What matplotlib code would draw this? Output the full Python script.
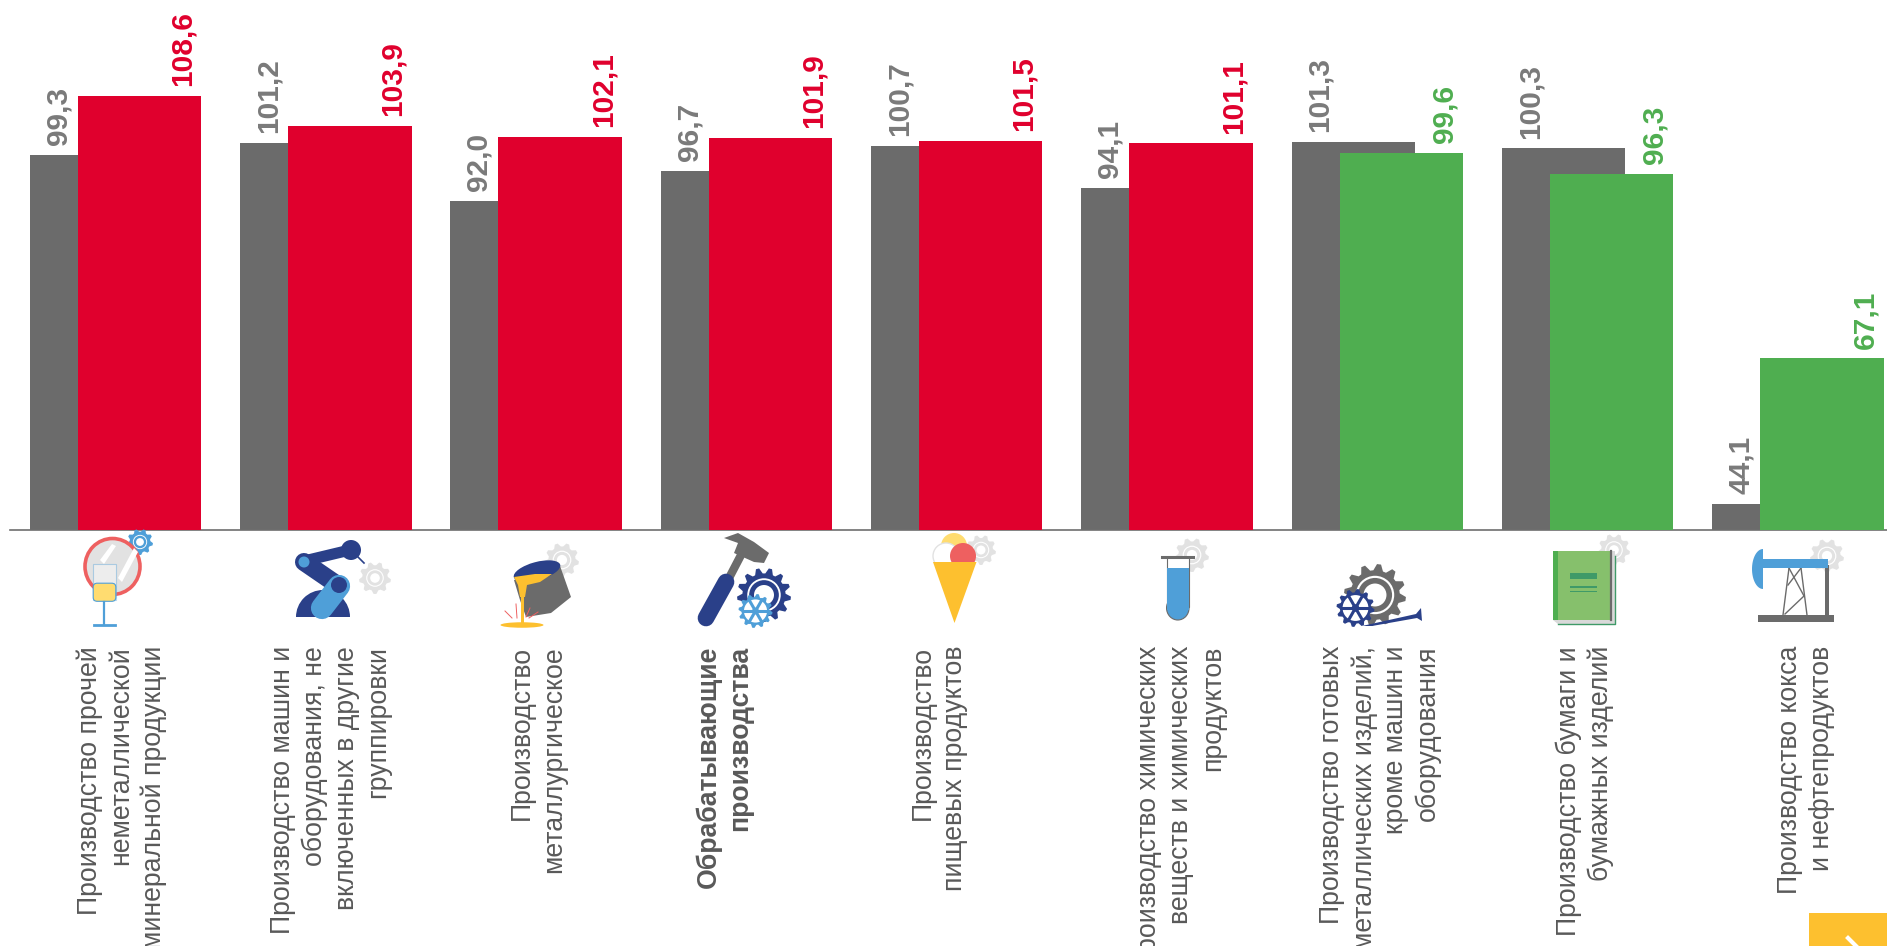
import numpy as np
import matplotlib
matplotlib.use("Agg")
import matplotlib.pyplot as plt
from matplotlib.patches import Polygon, Circle, Ellipse, Rectangle, Wedge, FancyBboxPatch

plt.rcParams['font.family'] = ['Liberation Sans', 'DejaVu Sans']

categories = [
    "Производство прочей\nнеметаллической\nминеральной продукции",
    "Производство машин и\nоборудования, не\nвключенных в другие\nгруппировки",
    "Производство\nметаллургическое",
    "Обрабатывающие\nпроизводства",
    "Производство\nпищевых продуктов",
    "Производство химических\nвеществ и химических\nпродуктов",
    "Производство готовых\nметаллических изделий,\nкроме машин и\nоборудования",
    "Производство бумаги и\nбумажных изделий",
    "Производство кокса\nи нефтепродуктов",
]
prev_year = [99.3, 101.2, 92.0, 96.7, 100.7, 94.1, 101.3, 100.3, 44.1]
curr_year = [108.6, 103.9, 102.1, 101.9, 101.5, 101.1, 99.6, 96.3, 67.1]
bold_category = 3
label_shift_px = [6, 5, 2, -22, -18, 14, 3, -3, 8]

GRAY, RED, GREEN = '#6b6b6b', '#e0002d', '#4fae50'
LBL_GRAY, TXT = '#7a7a7a', '#595959'
BLUE, NAVY, YEL, LG, CORAL = '#4f9fd8', '#2a4089', '#fdc02f', '#e2e2e2', '#ee6060'

W, H = 1887, 946
fig = plt.figure(figsize=(W/100, H/100), dpi=100, facecolor='white')
gw = 210.3
left = 10.4
base = 530
ppu = 6.33
ax = fig.add_axes([left/W, 1-base/H, 9*gw/W, base/H])
ax.set_xlim(-0.5, 8.5)
ax.set_ylim(40, 40+base/ppu)
x = np.arange(len(categories))
off = 24/gw
bw = 123.5/gw
ax.bar(x-off, prev_year, bw, color=GRAY, zorder=2)
cols = [RED if c >= 100 else GREEN for c in curr_year]
ax.bar(x+off, curr_year, bw, color=cols, zorder=3)
for s in ['top', 'right', 'left']:
    ax.spines[s].set_visible(False)
ax.spines['bottom'].set_color('#6e6e6e')
ax.spines['bottom'].set_linewidth(1.2)
ax.yaxis.set_visible(False)
ax.set_xticks([])

for i, name in enumerate(categories):
    ax.annotate(name, (i, 0), xycoords=('data', 'axes fraction'),
                xytext=(label_shift_px[i]*0.72, -83.5), textcoords='offset points',
                rotation=90, va='top', ha='center', multialignment='right',
                fontsize=19.2, color=TXT, linespacing=1.28,
                fontweight='bold' if i == bold_category else 'normal', annotation_clip=False)

for i, (a, b) in enumerate(zip(prev_year, curr_year)):
    ax.annotate(f"{a:.1f}".replace('.', ','), (i-off, a), xytext=(-24, 7), textcoords='offset points',
                rotation=90, ha='center', va='bottom', fontsize=21.5, fontweight='bold', color=LBL_GRAY, zorder=5)
    ax.annotate(f"{b:.1f}".replace('.', ','), (i+off, b), xytext=(31, 7), textcoords='offset points',
                rotation=90, ha='center', va='bottom', fontsize=21.5, fontweight='bold', color=cols[i], zorder=5)

# overlay in pixel coordinates for pictograms
ov = fig.add_axes([0, 0, 1, 1], facecolor='none')
ov.set_xlim(0, W); ov.set_ylim(H, 0); ov.axis('off')

def gear(cx, cy, r, col, n=9, hole=0.55, z=5):
    t = np.linspace(0, 2*np.pi, n*4, endpoint=False) + np.pi/(n*4)
    rr = np.where(np.arange(n*4) % 4 < 2, r, r*0.8)
    ov.add_patch(Polygon(np.c_[cx+rr*np.cos(t), cy+rr*np.sin(t)], closed=True, fc=col, ec='none', zorder=z))
    ov.add_patch(Circle((cx, cy), r*hole, fc='white', ec='none', zorder=z))
    ov.add_patch(Circle((cx, cy), r*(hole-0.07), fc=col, ec='none', zorder=z))
    ov.add_patch(Circle((cx, cy), r*(hole-0.25), fc='white', ec='none', zorder=z))

def wheel(cx, cy, r, col, z=7):
    t = np.linspace(0, 2*np.pi, 48, endpoint=False) + np.pi/48
    rr = np.where(np.arange(48) % 4 < 2, r, r*0.82)
    ov.add_patch(Polygon(np.c_[cx+rr*np.cos(t), cy+rr*np.sin(t)], closed=True, fc=col, ec='none', zorder=z))
    ov.add_patch(Circle((cx, cy), r*0.68, fc='white', ec='none', zorder=z))
    for a in np.arange(0, np.pi, np.pi/3):
        ov.plot([cx-r*.75*np.cos(a), cx+r*.75*np.cos(a)], [cy-r*.75*np.sin(a), cy+r*.75*np.sin(a)],
                color=col, lw=2.2, zorder=z+1)
    ov.add_patch(Circle((cx, cy), r*0.2, fc=col, ec='none', zorder=z+1))

def P(pts, col, z=6):
    ov.add_patch(Polygon(pts, closed=True, fc=col, ec='none', zorder=z))

# 1 glass and mirror
gear(140, 542, 13, BLUE, z=3)
ov.add_patch(Ellipse((112.5, 566.5), 55, 56, fc=LG, ec=CORAL, lw=2.6, zorder=4))
P([(118, 578), (134, 548), (138, 552), (122, 582)], 'white', z=5)
P([(100, 560), (112, 544), (116, 546), (104, 564)], 'white', z=5)
ov.add_patch(Rectangle((93, 563.5), 22.5, 36, fc='#ffffff', ec=BLUE, lw=0.8, alpha=.4, zorder=6))
ov.add_patch(FancyBboxPatch((95, 585), 19, 14.5, boxstyle='round,pad=1.8,rounding_size=4',
                            fc='#ffdc70', ec=BLUE, lw=0.8, zorder=7))
ov.plot([104, 104], [602, 625], color=BLUE, lw=1.6, zorder=7)
ov.plot([94, 115], [625, 625], color=BLUE, lw=2, zorder=7)

# 2 robot arm
gear(375, 578, 16, LG, z=3)
ov.add_patch(Wedge((323, 617), 27, 180, 360, fc=NAVY, ec='none', zorder=4))
ov.plot([304, 350], [561, 550], color=NAVY, lw=8, zorder=5)
ov.add_patch(Circle((351, 550), 10, fc=NAVY, ec='none', zorder=6))
ov.plot([358, 364], [557, 563], color=NAVY, lw=1.2, zorder=6)
ov.plot([304, 339], [562, 586], color=NAVY, lw=13, solid_capstyle='round', zorder=5)
ov.add_patch(Circle((304, 562), 5.5, fc=BLUE, ec='none', zorder=6))
ov.plot([339, 322], [586, 608], color=BLUE, lw=16, solid_capstyle='round', zorder=6)
ov.add_patch(Circle((339, 585), 8, fc=NAVY, ec='none', zorder=7))

# 3 ladle
gear(562, 560, 17, LG, z=3)
P([(514, 580), (559, 563), (571, 597), (551, 613), (526, 617), (520, 600)], GRAY, z=4)
ov.add_patch(Ellipse((537, 571), 48, 18, angle=-15, fc=NAVY, ec='none', zorder=5))
P([(514, 577), (535, 574), (552, 574), (540, 582), (527, 585), (525, 597), (520, 597), (518, 585)], YEL)
ov.add_patch(Rectangle((520.5, 590), 3.2, 33, fc=YEL, ec='none', zorder=6))
ov.add_patch(Ellipse((522, 625), 43, 5.5, fc=YEL, ec='none', zorder=6))
for a, b, c, d in [(505, 611, 512, 618), (516, 604, 517, 618), (538, 612, 529, 618), (530, 608, 526, 617)]:
    ov.plot([a, c], [b, d], color=CORAL, lw=0.7, zorder=6)

# 4 hammer and gears
P([(724, 538), (738, 533), (754, 542), (769, 553), (764, 563), (754, 562), (734, 553), (738, 543)], GRAY, z=4)
ov.plot([740, 728], [557, 580], color=GRAY, lw=6, zorder=4)
ov.plot([726, 706], [582, 618], color=NAVY, lw=12, solid_capstyle='round', zorder=5)
gear(764, 595, 27, NAVY, n=13, hole=0.62, z=5)
wheel(755.5, 611, 17, BLUE, z=7)

# 5 ice cream
gear(981, 550, 15, LG, z=3)
ov.add_patch(Circle((954, 546), 13, fc='#ffdc70', ec='none', zorder=4))
ov.add_patch(Circle((946, 556), 13, fc='white', ec=LG, lw=1, zorder=5))
ov.add_patch(Circle((963, 556), 13, fc=CORAL, ec='none', zorder=6))
P([(933, 562), (976.5, 562), (954.5, 623)], YEL, z=7)

# 6 test tube
gear(1192, 555, 17, LG, z=3)
ov.add_patch(Rectangle((1166.5, 557), 22.5, 50, fc='white', ec=GRAY, lw=0.8, zorder=4))
ov.add_patch(Ellipse((1177.8, 608), 22.5, 24, fc=BLUE, ec=GRAY, lw=0.8, zorder=4))
ov.add_patch(Rectangle((1167, 568), 21.5, 42, fc=BLUE, ec='none', zorder=5))
ov.plot([1162, 1193], [557, 557], color=GRAY, lw=2.2, zorder=6)

# 7 gears and wrench
gear(1375, 595, 31, GRAY, n=12, hole=0.62, z=4)
wheel(1355.5, 608, 19, NAVY, z=6)
P([(1362, 626), (1416, 614), (1421, 608), (1422, 621), (1417, 618), (1372, 626)], NAVY, z=8)

# 8 book
gear(1614, 550, 16, LG, z=3)
P([(1553, 551), (1615, 551), (1615, 624), (1558, 624), (1553, 620)], '#d9d9d9', z=4)
ov.add_patch(Rectangle((1553, 551), 57, 69, fc='#86c06c', ec='none', zorder=5))
ov.add_patch(Rectangle((1553, 551), 4.5, 69, fc='#4fae50', ec='none', zorder=6))
ov.plot([1558, 1615, 1615], [624, 624, 556], color='#3f9a68', lw=1, zorder=6)
ov.plot([1611, 1611], [551, 620], color=GRAY, lw=1.6, zorder=6)
ov.add_patch(Rectangle((1570, 573), 27, 6, fc='#3f9a68', ec='none', zorder=7))
for yy in (586, 590.5):
    ov.add_patch(Rectangle((1570, yy), 27, 1.8, fc='#3f9a68', ec='none', zorder=7))

# 9 pump jack
gear(1827, 556, 17, LG, z=3)
ov.add_patch(Rectangle((1758, 615), 76, 7, fc=GRAY, ec='none', zorder=5))
ov.add_patch(Rectangle((1825, 565), 3.8, 50, fc=GRAY, ec='none', zorder=5))
ov.add_patch(Rectangle((1762, 559), 66, 9, fc=BLUE, ec='none', zorder=6))
th = np.linspace(np.pi/2, 3*np.pi/2, 30)
P(np.c_[1763+11*np.cos(th), 569+20*np.sin(th)], BLUE, z=6)
for a, b, c, d in [(1789, 568, 1783, 615), (1801, 568, 1807, 615), (1789, 568, 1804, 596),
                   (1804, 596, 1785, 614), (1801, 568, 1788, 585)]:
    ov.plot([a, c], [b, d], color=GRAY, lw=1.0, zorder=5)

# navigation button
ov.add_patch(Rectangle((1809, 913), 80, 40, fc=YEL, ec='none', zorder=9))
ov.plot([1848, 1858, 1848], [938, 948, 958], color='white', lw=3, zorder=10)

fig.savefig('out.png', dpi=100)
